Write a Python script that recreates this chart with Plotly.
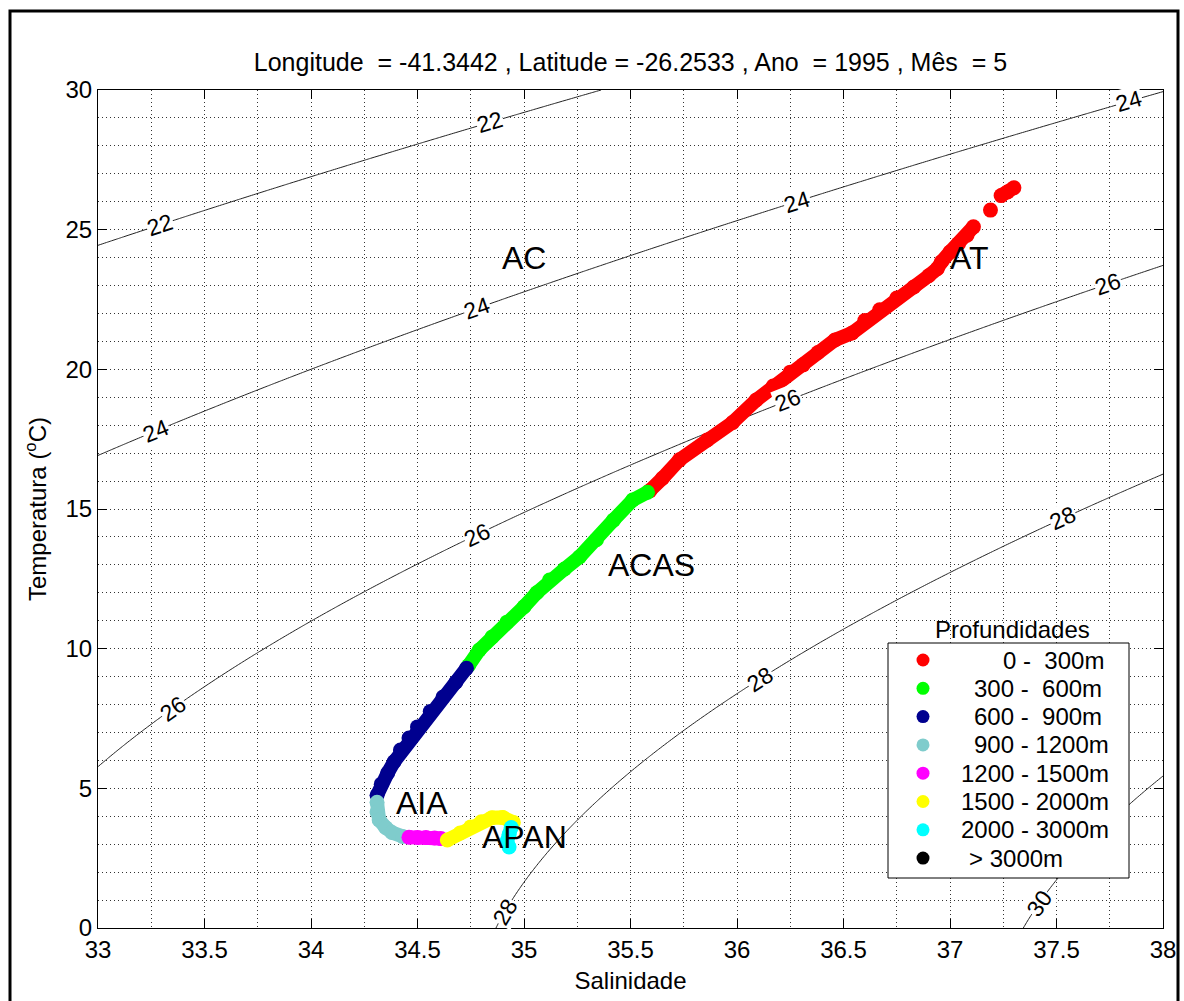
import numpy as np
import plotly.graph_objects as go

# ---------------- data ----------------
legend_labels = ["0 -\u00a0\u00a0300m", "300 -\u00a0\u00a0600m", "600 -\u00a0\u00a0900m",
                 "900 - 1200m", "1200 - 1500m", "1500 - 2000m", "2000 - 3000m", "> 3000m"]
colors = ["#FF0000", "#00FF00", "#00008F", "#7FCCCC",
          "#FF00FF", "#FFFF00", "#00FFFF", "#000000"]

sal_0_300 = [37.30, 37.27, 37.24, None, 37.19, None, 37.11, 37.08, 37.04, 37.00,
             36.96, 36.94, 36.90, 36.83, 36.75, 36.67, 36.60, 36.54, 36.46, 36.38,
             36.31, 36.25, 36.17, 36.09, 35.98, 35.86, 35.73, 35.65, 35.59]
temp_0_300 = [26.50, 26.35, 26.22, None, 25.70, None, 25.10, 24.80, 24.50, 24.20,
              23.85, 23.60, 23.35, 22.95, 22.55, 22.13, 21.75, 21.30, 21.05, 20.60,
              20.16, 19.90, 19.40, 18.90, 18.10, 17.47, 16.76, 16.10, 15.65]

sal_300_600 = [35.58, 35.51, 35.42, 35.34, 35.26, 35.19, 35.12, 35.06, 35.00,
               34.92, 34.85, 34.79, 34.74]
temp_300_600 = [15.60, 15.32, 14.60, 13.90, 13.28, 12.85, 12.46, 12.00, 11.50,
                10.95, 10.42, 9.95, 9.40]

sal_600_900 = [34.73, 34.68, 34.62, 34.56, 34.50, 34.46, 34.42, 34.39, 34.36, 34.33, 34.31]
temp_600_900 = [9.30, 8.80, 8.27, 7.75, 7.20, 6.80, 6.37, 5.95, 5.55, 5.15, 4.75]

sal_900_1200 = [34.31, 34.31, 34.32, 34.35, 34.38, 34.43]
temp_900_1200 = [4.50, 4.15, 3.87, 3.60, 3.42, 3.28]

sal_1200_1500 = [34.46, 34.50, 34.54, 34.58, 34.61]
temp_1200_1500 = [3.25, 3.24, 3.24, 3.22, 3.20]

sal_1500_2000 = [34.64, 34.70, 34.75, 34.80, 34.85, 34.90, 34.95]
temp_1500_2000 = [3.15, 3.40, 3.62, 3.80, 3.95, 3.96, 3.78]

sal_2000_3000 = [34.94, 34.93, 34.92, 34.93]
temp_2000_3000 = [3.60, 3.35, 3.10, 2.90]

sal_3000 = []
temp_3000 = []

salinity = [sal_0_300, sal_300_600, sal_600_900, sal_900_1200,
            sal_1200_1500, sal_1500_2000, sal_2000_3000, sal_3000]
temperature = [temp_0_300, temp_300_600, temp_600_900, temp_900_1200,
               temp_1200_1500, temp_1500_2000, temp_2000_3000, temp_3000]

sigma_levels = [22, 24, 26, 28, 30]
# salinity positions of the contour labels, per level
label_sal = {22: [33.29, 34.84],
             24: [33.27, 34.78, 36.28, 37.84],
             26: [33.35, 34.78, 36.24, 37.74],
             28: [34.91, 36.11, 37.53],
             30: [37.42]}

water_masses = ["AC", "AT", "ACAS", "AIA", "APAN"]
wm_sal = [35.00, 37.09, 35.60, 34.52, 35.00]
wm_temp = [24.0, 24.0, 13.0, 4.47, 3.26]

x_ticks = [33, 33.5, 34, 34.5, 35, 35.5, 36, 36.5, 37, 37.5, 38]
y_ticks = [0, 5, 10, 15, 20, 25, 30]

title_text = "Longitude  = -41.3442 , Latitude = -26.2533 , Ano  = 1995 , Mês  = 5"


# ---------------- density field (UNESCO EOS-80, p = 0) ----------------
def sigma_theta(S, T):
    rw = (999.842594 + 6.793952e-2 * T - 9.095290e-3 * T**2 + 1.001685e-4 * T**3
          - 1.120083e-6 * T**4 + 6.536332e-9 * T**5)
    A = 0.824493 - 4.0899e-3 * T + 7.6438e-5 * T**2 - 8.2467e-7 * T**3 + 5.3875e-9 * T**4
    B = -5.72466e-3 + 1.0227e-4 * T - 1.6546e-6 * T**2
    C = 4.8314e-4
    return rw + A * S + B * S**1.5 + C * S**2 - 1000.0


def temp_on_isopycnal(S, level):
    lo, hi = -2.0, 40.0
    for _ in range(60):
        mid = 0.5 * (lo + hi)
        if sigma_theta(S, mid) > level:
            lo = mid
        else:
            hi = mid
    return 0.5 * (lo + hi)


s_grid = np.linspace(33, 38, 251)
t_grid = np.linspace(0, 30, 301)
SS, TT = np.meshgrid(s_grid, t_grid)
ZZ = sigma_theta(SS, TT)

FONT = "Liberation Sans, Arial, Helvetica, sans-serif"

# plot area in pixels
L, R, T_, B_ = 98, 1163, 90, 928
W, H = 1184, 1001
PX_S = (R - L) / 5.0
PX_T = (B_ - T_) / 30.0


def px(xp):
    return (xp - L) / (R - L)


def py(yp):
    return (B_ - yp) / (B_ - T_)


fig = go.Figure()

fig.add_trace(go.Contour(
    x=s_grid, y=t_grid, z=ZZ,
    contours=dict(start=sigma_levels[0], end=sigma_levels[-1], size=2,
                  coloring="none", showlabels=False),
    line=dict(color="#222222", width=1),
    showscale=False, showlegend=False, hoverinfo="skip",
))

for i in range(len(salinity)):
    if salinity[i]:
        fig.add_trace(go.Scatter(
            x=salinity[i], y=temperature[i], mode="lines",
            line=dict(color=colors[i], width=14),
            showlegend=False, hoverinfo="skip", connectgaps=False,
        ))
        fig.add_trace(go.Scatter(
            x=salinity[i], y=temperature[i], mode="markers", name=legend_labels[i],
            marker=dict(color=colors[i], size=15, line=dict(width=0)),
            showlegend=False,
        ))

# contour labels (on the isopycnals, rotated along them)
for lev in sigma_levels:
    for s in label_sal[lev]:
        t = temp_on_isopycnal(s, lev)
        eps = 1e-4
        dsdS = (sigma_theta(s + eps, t) - sigma_theta(s - eps, t)) / (2 * eps)
        dsdT = (sigma_theta(s, t + eps) - sigma_theta(s, t - eps)) / (2 * eps)
        m = -dsdS / dsdT
        ang = np.degrees(np.arctan2(-m * PX_T, PX_S))
        fig.add_annotation(x=s, y=t, text=str(lev), showarrow=False, textangle=ang,
                           font=dict(size=23, color="black", family=FONT),
                           bgcolor="white", borderpad=0,
                           xanchor="center", yanchor="middle")

for txt, sx, ty in zip(water_masses, wm_sal, wm_temp):
    fig.add_annotation(x=sx, y=ty, text=txt, showarrow=False,
                       font=dict(size=32, color="black", family=FONT),
                       xanchor="center", yanchor="middle")

# ---------------- legend (drawn by hand, like the original) ----------------
fig.add_shape(type="rect", xref="paper", yref="paper",
              x0=px(888), x1=px(1129), y0=py(878), y1=py(643),
              line=dict(color="black", width=1), fillcolor="white", layer="above")
fig.add_annotation(xref="paper", yref="paper", x=px(1012), y=py(629),
                   text="Profundidades", showarrow=False,
                   font=dict(size=24, color="black", family=FONT),
                   xanchor="center", yanchor="middle")
row_start = [1002, 973, 973, 973, 960, 960, 960, 968]
for i, lab in enumerate(legend_labels):
    yc = 660 + 28.3 * i
    fig.add_shape(type="circle", xref="paper", yref="paper",
                  xsizemode="pixel", ysizemode="pixel",
                  xanchor=px(923), yanchor=py(yc),
                  x0=-6.5, x1=6.5, y0=-6.5, y1=6.5,
                  fillcolor=colors[i], line=dict(width=0), layer="above")
    fig.add_annotation(xref="paper", yref="paper", x=px(row_start[i]), y=py(yc),
                       text=lab, showarrow=False, borderpad=0,
                       font=dict(size=24, color="black", family=FONT),
                       xanchor="left", yanchor="middle")

# figure border
fig.add_shape(type="rect", xref="paper", yref="paper",
              x0=px(10), x1=px(1178), y0=py(1020), y1=py(11),
              line=dict(color="black", width=3), fillcolor="rgba(0,0,0,0)", layer="above")

axis_common = dict(
    showline=True, linecolor="black", linewidth=1, mirror="ticks",
    ticks="inside", ticklen=9, tickcolor="black", tickwidth=1,
    showgrid=True, gridcolor="#333333", gridwidth=1, griddash="1px,3px",
    zeroline=False, tickfont=dict(size=24, color="black", family=FONT),
)

fig.update_xaxes(
    range=[33, 38], tickvals=x_ticks, ticktext=[f"{v:g}" for v in x_ticks],
    minor=dict(dtick=0.25, tick0=33, showgrid=True, gridcolor="#333333",
               griddash="1px,3px", ticks=""),
    title=dict(text="Salinidade", font=dict(size=24, color="black", family=FONT), standoff=10),
    **axis_common,
)
fig.update_yaxes(
    range=[0, 30], tickvals=y_ticks, ticktext=[str(v) for v in y_ticks],
    minor=dict(dtick=1, tick0=0, showgrid=True, gridcolor="#333333",
               griddash="1px,3px", ticks=""),
    title=dict(text="Temperatura (<sup>o</sup>C)", font=dict(size=24, color="black", family=FONT),
               standoff=12),
    **axis_common,
)

fig.update_layout(
    width=W, height=H, autosize=False,
    margin=dict(l=L, r=W - R, t=T_, b=H - B_, autoexpand=False),
    paper_bgcolor="white", plot_bgcolor="white",
    title=dict(text=title_text, x=0.5, xref="paper", y=1 - 62 / H, yref="container",
               xanchor="center", yanchor="middle",
               font=dict(size=25, color="black", family=FONT)),
    font=dict(family=FONT, color="black"),
    showlegend=False,
)

fig.write_html("out.html")
